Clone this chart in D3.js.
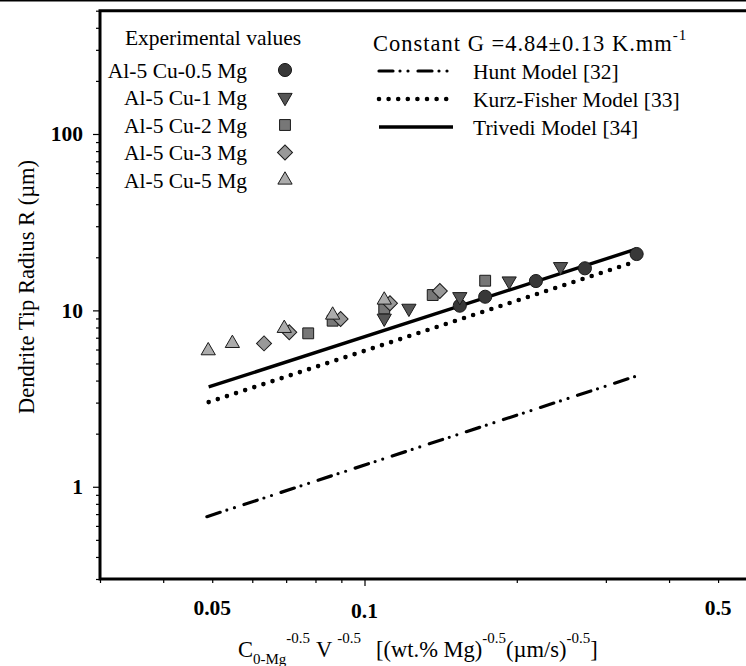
<!DOCTYPE html>
<html>
<head>
<meta charset="utf-8">
<script src="https://cdn.jsdelivr.net/npm/d3@7"></script>
<style>
  html, body { margin: 0; padding: 0; background: #fff; }
  svg { display: block; }
  text { font-family: "Liberation Serif", "Times New Roman", Times, serif; fill: #000; }
</style>
</head>
<body>
<svg id="chart" width="746" height="666"></svg>
<script>
// Measured tip radius R (µm) against C0-Mg^-0.5 V^-0.5, one array per alloy
const cu05Mg = [[0.1543, 10.63], [0.1732, 11.95], [0.2182, 14.67], [0.2727, 17.32], [0.3451, 20.87]];
const cu1Mg  = [[0.1094, 9.02], [0.1224, 10.27], [0.1543, 11.95], [0.1932, 14.67], [0.2441, 17.69]];
const cu2Mg  = [[0.0774, 7.41], [0.0865, 8.74], [0.1094, 10.27], [0.1364, 12.22], [0.1732, 14.73]];
const cu3Mg  = [[0.0633, 6.50], [0.0710, 7.51], [0.0897, 8.93], [0.1123, 10.97], [0.1409, 12.88]];
const cu5Mg  = [[0.0491, 5.91], [0.0548, 6.50], [0.0694, 7.91], [0.0865, 9.41], [0.1094, 11.45]];
const alloyNames = ["Al-5 Cu-0.5 Mg", "Al-5 Cu-1 Mg", "Al-5 Cu-2 Mg", "Al-5 Cu-3 Mg", "Al-5 Cu-5 Mg"];

// Model predictions (end points of straight lines on log-log axes)
const hunt       = [[0.0488, 0.677], [0.3453, 4.25]];
const kurzFisher = [[0.0492, 3.02], [0.3453, 19.0]];
const trivedi    = [[0.0492, 3.68], [0.3453, 22.3]];
const modelNames = ["Hunt Model [32]", "Kurz-Fisher Model [33]", "Trivedi Model [34]"];

// Axis ticks
const xTickLabels = [0.05, 0.1, 0.5];
const xMajorTicks = [0.1];
const xMinorTicks = [0.03, 0.04, 0.05, 0.06, 0.07, 0.08, 0.09, 0.2, 0.3, 0.4, 0.5, 0.6, 0.7];
const yTickLabels = [1, 10, 100];
const yMinorTicks = [0.3, 0.4, 0.5, 0.6, 0.7, 0.8, 0.9, 2, 3, 4, 5, 6, 7, 8, 9,
                     20, 30, 40, 50, 60, 70, 80, 90, 200, 300, 400, 500];

const svg = d3.select("#chart");
const plotLeft = 100, plotBottom = 579, plotTop = 10.7, plotRight = 792;

const x = d3.scaleLog().domain([0.03, 0.7]).range([plotLeft, plotRight]);
const y = d3.scaleLog().domain([0.3, 500]).range([plotBottom, plotTop]);

// ---- axes ----
const yMinor = d3.axisLeft(y).tickValues(yMinorTicks).tickSize(4).tickFormat("");
const yMajor = d3.axisLeft(y).tickValues(yTickLabels).tickSize(7).tickPadding(10)
  .tickFormat(d3.format("d"));
const xMinor = d3.axisBottom(x).tickValues(xMinorTicks).tickSize(4).tickFormat("");
const xMajor = d3.axisBottom(x).tickValues(xMajorTicks).tickSize(7).tickFormat("");

function styleAxis(g) {
  g.select(".domain").remove();
  g.selectAll(".tick line").attr("stroke", "#000").attr("stroke-width", 1.2);
}
svg.append("g").attr("transform", `translate(${plotLeft},0)`).call(yMinor).call(styleAxis);
const gyMaj = svg.append("g").attr("transform", `translate(${plotLeft},0)`).call(yMajor).call(styleAxis);
gyMaj.selectAll(".tick text")
  .attr("font-family", "Liberation Serif, Times New Roman, serif")
  .attr("font-size", 21.5).attr("font-weight", "bold").attr("fill", "#000");
svg.append("g").attr("transform", `translate(0,${plotBottom})`).call(xMinor).call(styleAxis);
svg.append("g").attr("transform", `translate(0,${plotBottom})`).call(xMajor).call(styleAxis);

// x tick labels
svg.append("g").selectAll("text").data(xTickLabels).join("text")
  .attr("x", d => x(d))
  .attr("y", d => d === 0.1 ? 618 : 615)
  .attr("text-anchor", "middle")
  .attr("font-size", 21.5).attr("font-weight", "bold")
  .text(d => String(d));

// ---- frame ----
svg.append("line").attr("x1", 0).attr("x2", 746).attr("y1", 0.75).attr("y2", 0.75)
  .attr("stroke", "#000").attr("stroke-width", 1.5);
svg.append("path")
  .attr("d", `M746,${plotTop}H${plotLeft}V${plotBottom}H746`)
  .attr("fill", "none").attr("stroke", "#000").attr("stroke-width", 3);

// ---- model lines ----
const line = d3.line().x(d => x(d[0])).y(d => y(d[1]));
const modelStyles = [
  { data: hunt,       width: 3.2, dash: "14 7 0 8 0 10", cap: "round" },
  { data: kurzFisher, width: 4.6, dash: "0 9.6",         cap: "round" },
  { data: trivedi,    width: 3.4, dash: null,            cap: "butt" }
];
modelStyles.forEach(m => {
  svg.append("path").datum(m.data).attr("d", line)
    .attr("fill", "none").attr("stroke", "#000")
    .attr("stroke-width", m.width).attr("stroke-linecap", m.cap)
    .attr("stroke-dasharray", m.dash);
});

// ---- experimental points ----
const markerStyles = [
  { data: cu05Mg, type: d3.symbolCircle,   size: 135, rot: 0,   fill: "#383838" },
  { data: cu1Mg,  type: d3.symbolTriangle, size: 88,  rot: 180, fill: "#555555" },
  { data: cu2Mg,  type: d3.symbolSquare,   size: 118, rot: 0,   fill: "#777777" },
  { data: cu3Mg,  type: d3.symbolSquare,   size: 112, rot: 45,  fill: "#999999" },
  { data: cu5Mg,  type: d3.symbolTriangle, size: 88,  rot: 0,   fill: "#acacac" }
];
markerStyles.forEach(s => {
  svg.append("g").selectAll("path").data(s.data).join("path")
    .attr("d", d3.symbol().type(s.type).size(s.size))
    .attr("transform", d => `translate(${x(d[0])},${y(d[1])}) rotate(${s.rot})`)
    .attr("fill", s.fill).attr("stroke", "#1a1a1a").attr("stroke-width", 1);
});

// ---- left legend: experimental values ----
svg.append("text").attr("x", 213).attr("y", 37).attr("dy", "0.35em")
  .attr("text-anchor", "middle").attr("font-size", 21.5).text("Experimental values");
const legRowY = [70, 97.5, 125, 152.5, 180];
markerStyles.forEach((s, i) => {
  svg.append("text").attr("x", 247).attr("y", legRowY[i]).attr("dy", "0.35em")
    .attr("text-anchor", "end").attr("font-size", 21.5).text(alloyNames[i]);
  svg.append("path")
    .attr("d", d3.symbol().type(s.type).size(s.size))
    .attr("transform", `translate(285,${legRowY[i]}) rotate(${s.rot})`)
    .attr("fill", s.fill).attr("stroke", "#1a1a1a").attr("stroke-width", 1);
});

// ---- right legend: models ----
const cText = svg.append("text").attr("x", 373).attr("y", 50.5)
  .attr("font-size", 22.5).attr("letter-spacing", 1);
cText.append("tspan").text("Constant G =4.84\u00b10.13 K.mm");
cText.append("tspan").attr("font-size", 15).attr("dy", -11).text("-1");
const modRowY = [71, 99, 127];
modelStyles.forEach((m, i) => {
  svg.append("line").attr("x1", 379).attr("x2", 453)
    .attr("y1", modRowY[i]).attr("y2", modRowY[i])
    .attr("stroke", "#000").attr("stroke-width", m.width)
    .attr("stroke-linecap", m.cap).attr("stroke-dasharray", m.dash);
  svg.append("text").attr("x", 473).attr("y", modRowY[i]).attr("dy", "0.35em")
    .attr("font-size", 21.5).text(modelNames[i]);
});

// ---- axis titles ----
svg.append("text")
  .attr("transform", "translate(26,287) rotate(-90)")
  .attr("dy", "0.35em").attr("text-anchor", "middle").attr("font-size", 22.5)
  .text("Dendrite Tip Radius R (\u00b5m)");

const xt = svg.append("text").attr("x", 238).attr("y", 657).attr("font-size", 22.5);
xt.append("tspan").text("C");
xt.append("tspan").attr("font-size", 15).attr("dy", 7).text("0-Mg");
xt.append("tspan").attr("font-size", 15).attr("dy", -21).text("-0.5");
xt.append("tspan").attr("dy", 14).attr("dx", 6).text("V");
xt.append("tspan").attr("font-size", 15).attr("dy", -14).attr("dx", 5).text("-0.5");
xt.append("tspan").attr("dy", 14).attr("dx", 15).text("[(wt.% Mg)");
xt.append("tspan").attr("font-size", 15).attr("dy", -14).text("-0.5");
xt.append("tspan").attr("dy", 14).text("(\u00b5m/s)");
xt.append("tspan").attr("font-size", 15).attr("dy", -14).text("-0.5");
xt.append("tspan").attr("dy", 14).text("]");
</script>
</body>
</html>
